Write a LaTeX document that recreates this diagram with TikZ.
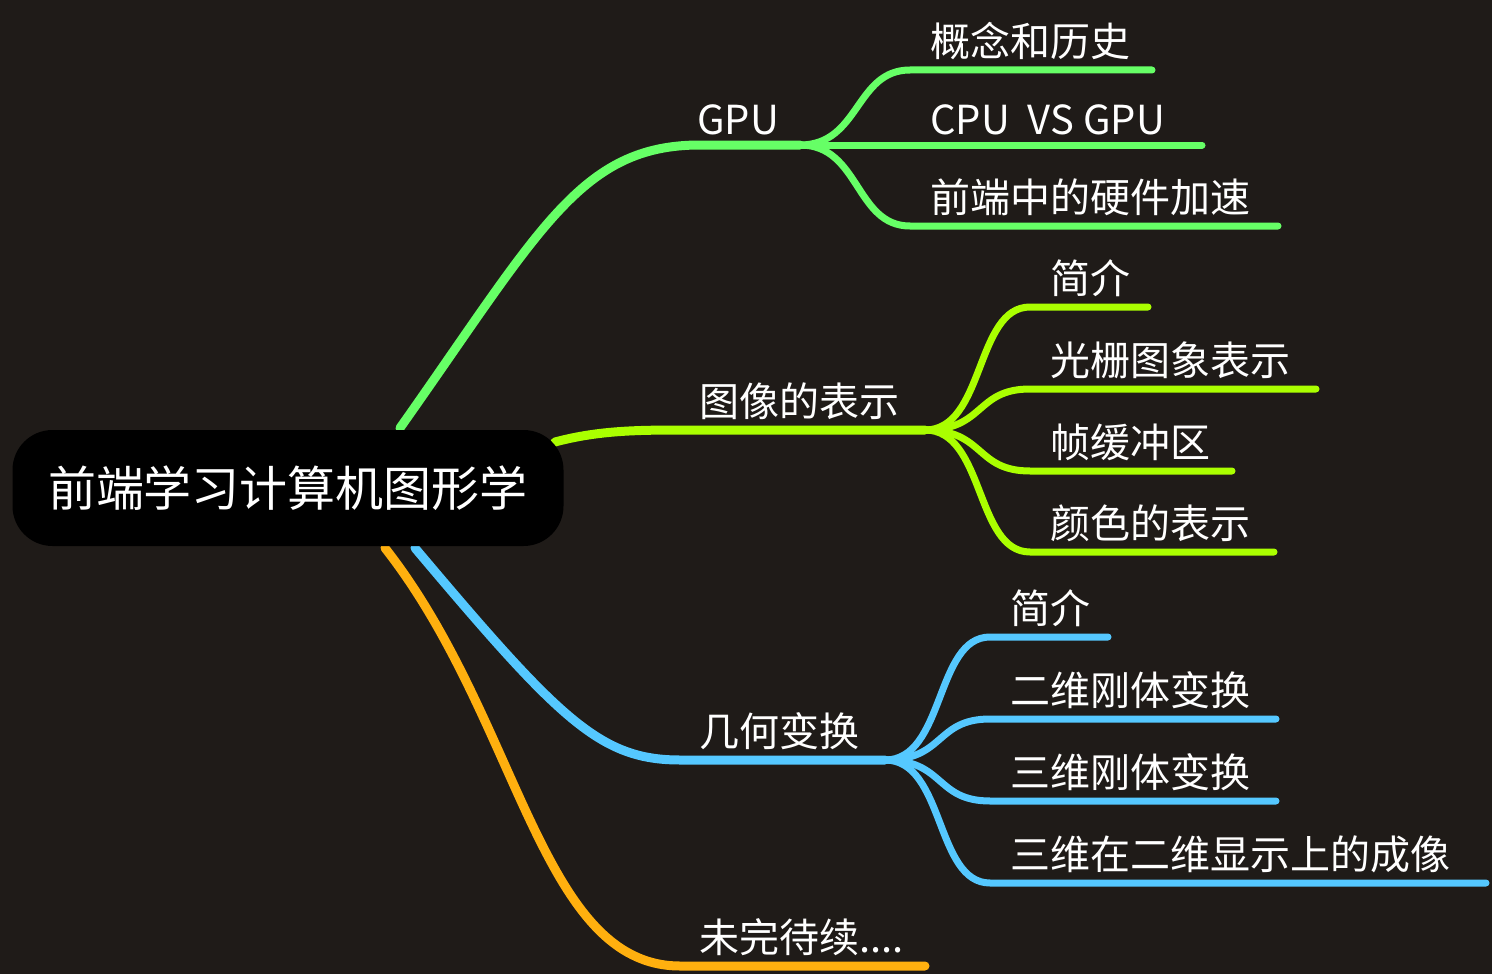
\documentclass[tikz,border=0pt]{standalone}
\usepackage{fontspec}
\setmainfont{Noto Sans CJK SC}
\begin{document}
\begin{tikzpicture}[x=1pt,y=-1pt,line cap=round,
  lbl/.style={anchor=south west,inner sep=0pt,font=\fontsize{40}{42}\selectfont,text=white},
  mainln/.style={line width=9pt},
  subln/.style={line width=7pt}]
\definecolor{bg}{HTML}{1F1B18}
\definecolor{cg}{HTML}{66FF66}
\definecolor{cy}{HTML}{AAFF00}
\definecolor{cb}{HTML}{55C8FF}
\definecolor{co}{HTML}{FFB00F}
\fill[bg] (0,0) rectangle (1492,974);
\useasboundingbox (0,0) rectangle (1492,974);
\coordinate (g0) at (400,428); \coordinate (g1) at (700,145); \coordinate (g2) at (800,145);
\coordinate (i0) at (555,442); \coordinate (i1) at (690,430); \coordinate (i2) at (925,430);
\coordinate (b0) at (415,548); \coordinate (b1) at (680,760); \coordinate (b2) at (885,760);
\coordinate (o0) at (385,548); \coordinate (o1) at (680,966); \coordinate (o2) at (925,966);
\draw[cg,mainln] (g0) .. controls (540,230) and (580,145) .. (g1) -- (g2);
\draw[cy,mainln] (i0) .. controls (600,430) and (640,430) .. (i1) -- (i2);
\draw[cb,mainln] (b0) .. controls (560,720) and (600,760) .. (b1) -- (b2);
\draw[co,mainln] (o0) .. controls (520,720) and (540,966) .. (o1) -- (o2);
\node[fill=black,rounded corners=40pt,minimum width=551pt,minimum height=116pt,text=white,font=\fontsize{48}{50}\selectfont] (root) at (288,488) {前端学习计算机图形学};
\node[lbl] (gl) at (697,135) {GPU};
\node[lbl] (il) at (699,420) {图像的表示};
\node[lbl] (bl) at (699,750) {几何变换};
\node[lbl] (ol) at (699,956) {未完待续....};
\foreach \y/\e/\t [count=\i] in {70/1152/概念和历史,145/1202/CPU\ \ VS GPU,226/1278/前端中的硬件加速}{
  \coordinate (gs\i) at (910,\y); \coordinate (ge\i) at (\e,\y);
  \draw[cg,subln] (g2) .. controls (860,145) and (855,\y) .. (gs\i) -- (ge\i);
  \node[lbl] (gt\i) at (930,\y-10) {\t};
}
\foreach \y/\e/\t [count=\i] in {307/1148/简介,389/1316/光栅图象表示,471/1232/帧缓冲区,552/1274/颜色的表示}{
  \coordinate (is\i) at (1030,\y); \coordinate (ie\i) at (\e,\y);
  \draw[cy,subln] (i2) .. controls (985,430) and (975,\y) .. (is\i) -- (ie\i);
  \node[lbl] (it\i) at (1050,\y-10) {\t};
}
\foreach \y/\e/\t [count=\i] in {637/1108/简介,719/1276/二维刚体变换,801/1276/三维刚体变换,883/1486/三维在二维显示上的成像}{
  \coordinate (bs\i) at (990,\y); \coordinate (be\i) at (\e,\y);
  \draw[cb,subln] (b2) .. controls (945,760) and (935,\y) .. (bs\i) -- (be\i);
  \node[lbl] (bt\i) at (1010,\y-10) {\t};
}
\end{tikzpicture}
\end{document}
